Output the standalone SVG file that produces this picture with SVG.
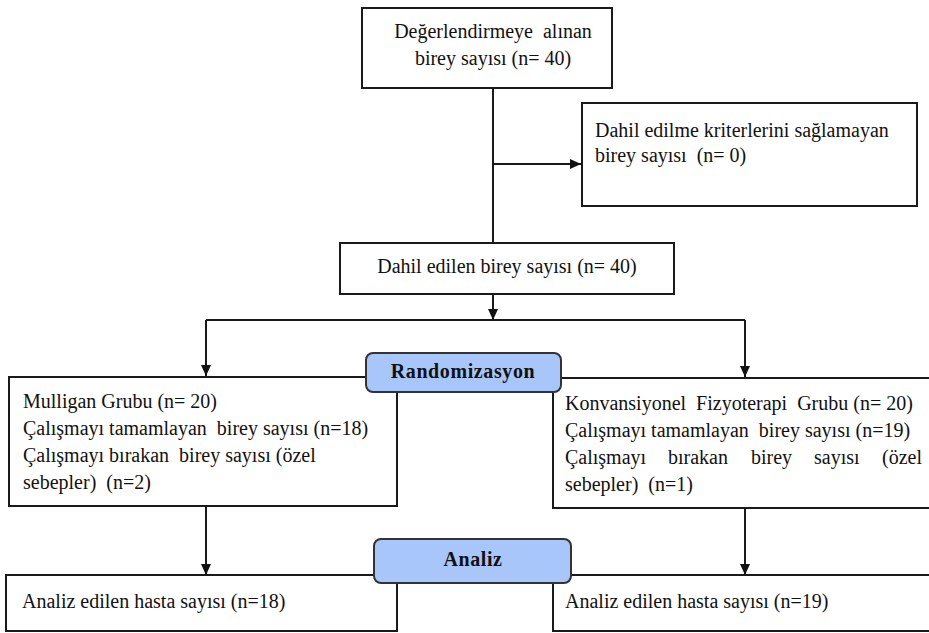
<svg xmlns="http://www.w3.org/2000/svg" width="929" height="633" viewBox="0 0 929 633">
<style>
.box{fill:#fff;stroke:#1a1a1a;stroke-width:2}
.pill{fill:#a9c6fb;stroke:#333;stroke-width:2}
.t{font-family:'Liberation Serif','DejaVu Serif',serif;font-size:20px;fill:#111}
.c{text-anchor:middle}
.b{font-weight:bold;letter-spacing:0.6px}
.ln{fill:none;stroke:#1a1a1a;stroke-width:2}
</style>
<defs>
<marker id="ah" markerUnits="userSpaceOnUse" markerWidth="12" markerHeight="12" viewBox="0 0 12 12" refX="11" refY="6" orient="auto">
<path d="M0,1 L11,6 L0,11 Z" fill="#111"/>
</marker>
</defs>
<g id="connectors">
<path class="ln" d="M493,88 V243"/>
<path class="ln" d="M493,164 H581" marker-end="url(#ah)"/>
<path class="ln" d="M493,294 V320" marker-end="url(#ah)"/>
<path class="ln" d="M206,320 H745"/>
<path class="ln" d="M206,320 V376" marker-end="url(#ah)"/>
<path class="ln" d="M745,320 V377" marker-end="url(#ah)"/>
<path class="ln" d="M206,506 V575" marker-end="url(#ah)"/>
<path class="ln" d="M745,508 V575" marker-end="url(#ah)"/>
</g>
<g id="assessed">
<rect class="box" x="362" y="8" width="250" height="80"/>
<text class="t c" x="493" y="38" xml:space="preserve">Değerlendirmeye  alınan</text>
<text class="t c" x="493" y="65">birey sayısı (n= 40)</text>
</g>
<g id="excluded">
<rect class="box" x="582" y="103" width="335" height="103"/>
<text class="t" x="595" y="137">Dahil edilme kriterlerini  sağlamayan</text>
<text class="t" x="595" y="162" xml:space="preserve">birey sayısı  (n= 0)</text>
</g>
<g id="included">
<rect class="box" x="340" y="243" width="334" height="51"/>
<text class="t c" x="507" y="273">Dahil edilen birey sayısı (n= 40)</text>
</g>
<g id="mulligan">
<rect class="box" x="9" y="377" width="388" height="129"/>
<text class="t" x="23" y="408">Mulligan Grubu (n= 20)</text>
<text class="t" x="23" y="435" xml:space="preserve">Çalışmayı tamamlayan  birey sayısı (n=18)</text>
<text class="t" x="23" y="462" xml:space="preserve">Çalışmayı bırakan  birey sayısı (özel</text>
<text class="t" x="23" y="489" xml:space="preserve">sebepler)  (n=2)</text>
</g>
<g id="konvansiyonel">
<rect class="box" x="553" y="378" width="385" height="130"/>
<text class="t" x="565" y="410" xml:space="preserve">Konvansiyonel  Fizyoterapi  Grubu (n= 20)</text>
<text class="t" x="565" y="437" xml:space="preserve">Çalışmayı tamamlayan  birey sayısı (n=19)</text>
<text class="t" y="464"><tspan x="565">Çalışmayı</tspan><tspan x="668">bırakan</tspan><tspan x="751">birey</tspan><tspan x="814">sayısı</tspan><tspan x="922" text-anchor="end">(özel</tspan></text>
<text class="t" x="565" y="491" xml:space="preserve">sebepler)  (n=1)</text>
</g>
<g id="randomizasyon">
<rect class="pill" x="366" y="353" width="195" height="39" rx="7"/>
<text class="t c b" x="463" y="378">Randomizasyon</text>
</g>
<g id="analyzed-left">
<rect class="box" x="6" y="575" width="391" height="56"/>
<text class="t" x="22" y="608">Analiz edilen hasta sayısı (n=18)</text>
</g>
<g id="analyzed-right">
<rect class="box" x="553" y="575" width="385" height="56"/>
<text class="t" x="565" y="608">Analiz edilen hasta sayısı (n=19)</text>
</g>
<g id="analiz">
<rect class="pill" x="374" y="539" width="197" height="44" rx="7"/>
<text class="t c b" x="473" y="566">Analiz</text>
</g>
</svg>
